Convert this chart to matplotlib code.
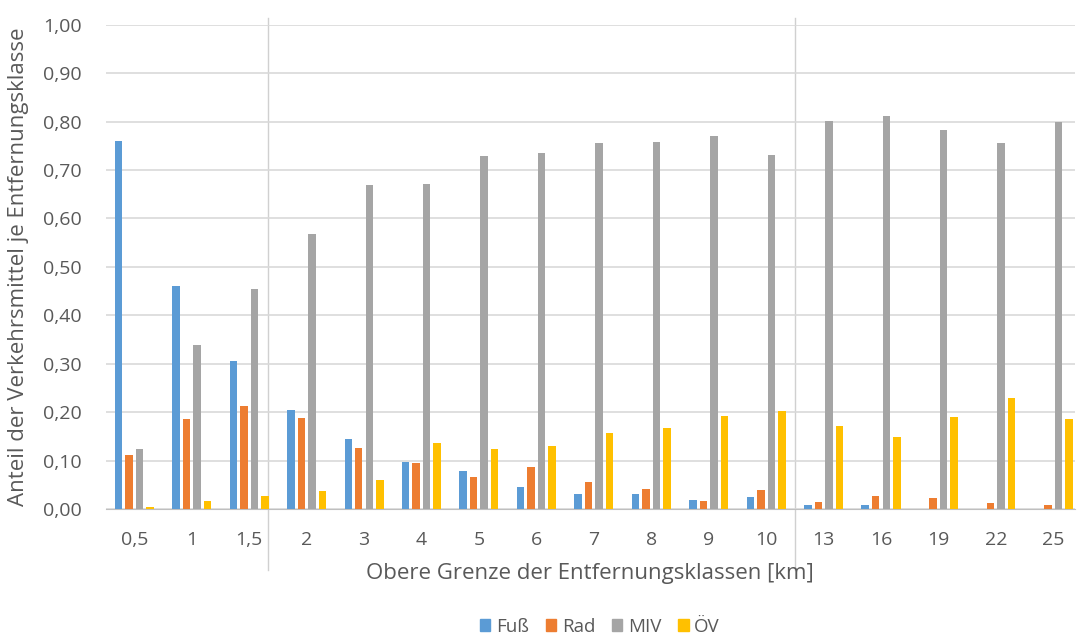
import matplotlib
matplotlib.use("Agg")
import matplotlib.pyplot as plt
import numpy as np
from matplotlib.patches import Patch

plt.rcParams['font.family'] = ['Open Sans', 'DejaVu Sans']

# obere Grenze der Entfernungsklassen [km]
klassen = ['0,5', '1', '1,5', '2', '3', '4', '5', '6', '7', '8', '9', '10',
           '13', '16', '19', '22', '25']
fuss = [0.76, 0.46, 0.305, 0.205, 0.145, 0.097, 0.078, 0.046, 0.030, 0.030,
        0.018, 0.025, 0.008, 0.008, 0.0, 0.0, 0.0]
rad = [0.112, 0.185, 0.212, 0.188, 0.126, 0.094, 0.066, 0.086, 0.055, 0.041,
       0.016, 0.040, 0.015, 0.027, 0.023, 0.012, 0.008]
miv = [0.124, 0.338, 0.455, 0.567, 0.670, 0.672, 0.728, 0.735, 0.755, 0.758,
       0.770, 0.730, 0.802, 0.812, 0.783, 0.756, 0.800]
oev = [0.004, 0.017, 0.026, 0.037, 0.059, 0.137, 0.123, 0.131, 0.157, 0.167,
       0.193, 0.202, 0.172, 0.149, 0.191, 0.229, 0.186]
serien = ['Fuß', 'Rad', 'MIV', 'ÖV']
farben = ['#5B9BD5', '#ED7D31', '#A5A5A5', '#FFC000']
trenner = [2.33, 11.5]  # Trennlinien zwischen den Klassenbereichen

txt = '#595959'

fig = plt.figure(figsize=(10.81, 6.44), dpi=100)
ax = fig.add_axes([0.0976, 0.2096, 0.897, 0.752])

x = np.arange(len(klassen))
step = 0.183
w = 0.13
for i, (vals, col) in enumerate(zip([fuss, rad, miv, oev], farben)):
    ax.bar(x + (i - 1.5) * step, vals, width=w, color=col, zorder=3)

ax.set_xlim(-0.5, len(klassen) - 0.62)
ax.set_ylim(0, 1.0)
ticks = np.arange(0, 1.01, 0.1)
ax.set_yticks(ticks)
ax.set_yticklabels([f'{v:.2f}'.replace('.', ',') for v in ticks])
ax.set_xticks(x)
ax.set_xticklabels(klassen)
ax.tick_params(axis='both', length=0, labelsize=14, colors=txt)
ax.tick_params(axis='x', pad=16)
ax.tick_params(axis='y', pad=17)
ax.grid(axis='y', color='#D9D9D9', linewidth=1.2, zorder=0)
for s in ['top', 'right', 'left']:
    ax.spines[s].set_visible(False)
ax.spines['bottom'].set_color('#BFBFBF')

for t in trenner:
    ax.axvline(t, ymin=-0.126, ymax=1.013, color='#D0D0D0', linewidth=1,
               clip_on=False, zorder=1)

ax.set_xlabel('Obere Grenze der Entfernungsklassen [km]', fontsize=16,
              color=txt, labelpad=10)
ax.set_ylabel('Anteil der Verkehrsmittel je Entfernungsklasse', fontsize=16,
              color=txt, labelpad=10)

handles = [Patch(color=c, label=s) for s, c in zip(serien, farben)]
fig.legend(handles=handles, loc='center', bbox_to_anchor=(0.555, 0.027), ncol=4,
           frameon=False, fontsize=13.5, labelcolor=txt, handlelength=0.55,
           handleheight=0.55, handletextpad=0.3, columnspacing=0.9)

fig.savefig('out.png', dpi=100, facecolor='white')
